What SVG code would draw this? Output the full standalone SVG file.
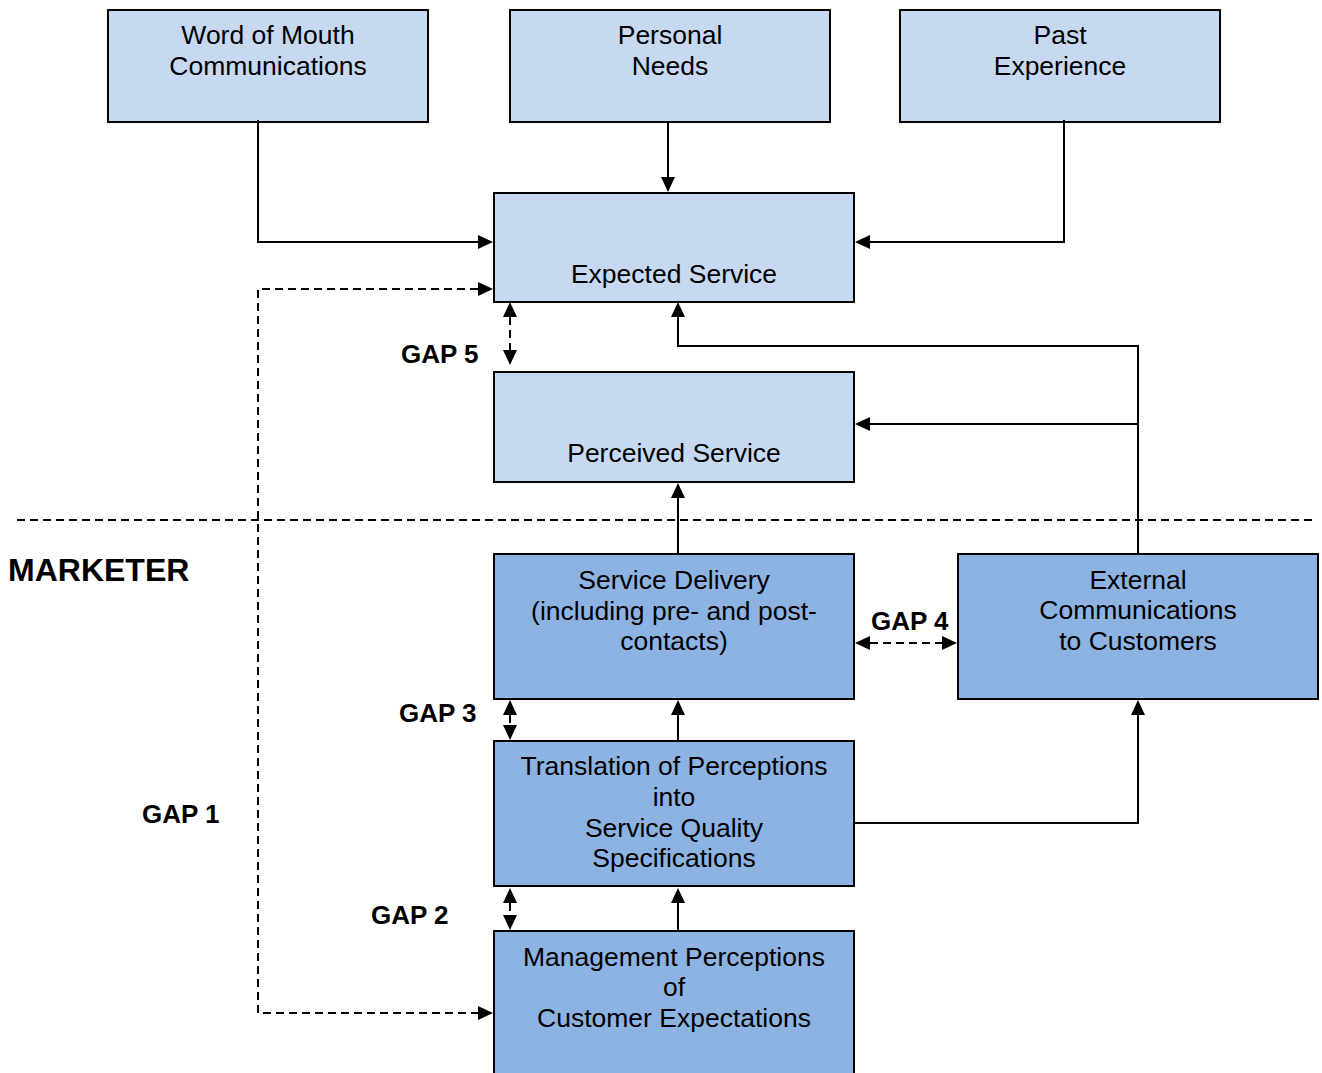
<svg xmlns="http://www.w3.org/2000/svg" width="1322" height="1073" viewBox="0 0 1322 1073">
<style>
.box{stroke:#000;stroke-width:2}
.l1{fill:#C6D9F1}
.l2{fill:#8DB3E2}
.t{font-family:"Liberation Sans",Arial,sans-serif;font-size:26.5px;fill:#000;text-anchor:middle}
.b{font-family:"Liberation Sans",Arial,sans-serif;font-size:26px;font-weight:bold;fill:#000}
.big{font-size:32px}
.c{fill:none;stroke:#000;stroke-width:2}
.d{stroke-dasharray:8 5}
</style>
<defs>
<marker id="ah" markerUnits="userSpaceOnUse" markerWidth="16" markerHeight="15" refX="0" refY="7" orient="auto-start-reverse" overflow="visible">
<path d="M0,0 L15,7 L0,14 Z" fill="#000"/>
</marker>
</defs>
<rect width="1322" height="1073" fill="#fff"/>

<line class="c d" x1="17" y1="520" x2="1315" y2="520"/>

<g id="word-of-mouth">
<rect class="box l1" x="108" y="10" width="320" height="112"/>
<text class="t" x="268" y="43.5">Word of Mouth</text>
<text class="t" x="268" y="74.5">Communications</text>
</g>
<g id="personal-needs">
<rect class="box l1" x="510" y="10" width="320" height="112"/>
<text class="t" x="670" y="43.5">Personal</text>
<text class="t" x="670" y="74.5">Needs</text>
</g>
<g id="past-experience">
<rect class="box l1" x="900" y="10" width="320" height="112"/>
<text class="t" x="1060" y="43.5">Past</text>
<text class="t" x="1060" y="74.5">Experience</text>
</g>
<g id="expected-service">
<rect class="box l1" x="494" y="193" width="360" height="109"/>
<text class="t" x="674" y="283">Expected Service</text>
</g>
<g id="perceived-service">
<rect class="box l1" x="494" y="372" width="360" height="110"/>
<text class="t" x="674" y="462">Perceived Service</text>
</g>
<g id="service-delivery">
<rect class="box l2" x="494" y="554" width="360" height="145"/>
<text class="t" x="674" y="589">Service Delivery</text>
<text class="t" x="674" y="619.5">(including pre- and post-</text>
<text class="t" x="674" y="650">contacts)</text>
</g>
<g id="external-communications">
<rect class="box l2" x="958" y="554" width="360" height="145"/>
<text class="t" x="1138" y="588.5">External</text>
<text class="t" x="1138" y="619">Communications</text>
<text class="t" x="1138" y="649.5">to Customers</text>
</g>
<g id="translation">
<rect class="box l2" x="494" y="741" width="360" height="145"/>
<text class="t" x="674" y="775">Translation of Perceptions</text>
<text class="t" x="674" y="806">into</text>
<text class="t" x="674" y="836.5">Service Quality</text>
<text class="t" x="674" y="867">Specifications</text>
</g>
<g id="management-perceptions">
<rect class="box l2" x="494" y="931" width="360" height="170"/>
<text class="t" x="674" y="965.5">Management Perceptions</text>
<text class="t" x="674" y="996">of</text>
<text class="t" x="674" y="1026.5">Customer Expectations</text>
</g>

<g id="labels">
<text class="b big" x="8" y="581">MARKETER</text>
<text class="b" x="401" y="363">GAP 5</text>
<text class="b" x="871" y="630">GAP 4</text>
<text class="b" x="399" y="722">GAP 3</text>
<text class="b" x="371" y="924">GAP 2</text>
<text class="b" x="142" y="823">GAP 1</text>
</g>

<g id="connectors">
<path class="c" d="M258,120 V242 H478" marker-end="url(#ah)"/>
<path class="c" d="M668,122 V177" marker-end="url(#ah)"/>
<path class="c" d="M1064,120 V242 H870" marker-end="url(#ah)"/>
<path class="c d" d="M478,289 H258 V1013 H478" marker-start="url(#ah)" marker-end="url(#ah)"/>
<path class="c d" d="M510,317 V350" marker-start="url(#ah)" marker-end="url(#ah)"/>
<path class="c" d="M1138,554 V346 H678 V317" marker-end="url(#ah)"/>
<path class="c" d="M1138,424 H870" marker-end="url(#ah)"/>
<path class="c" d="M678,554 V498" marker-end="url(#ah)"/>
<path class="c d" d="M870,643 H942" marker-start="url(#ah)" marker-end="url(#ah)"/>
<path class="c d" d="M510,715 V725" marker-start="url(#ah)" marker-end="url(#ah)"/>
<path class="c" d="M678,741 V715" marker-end="url(#ah)"/>
<path class="c" d="M854,823 H1138 V715" marker-end="url(#ah)"/>
<path class="c d" d="M510,903 V915" marker-start="url(#ah)" marker-end="url(#ah)"/>
<path class="c" d="M678,931 V903" marker-end="url(#ah)"/>
</g>
</svg>
